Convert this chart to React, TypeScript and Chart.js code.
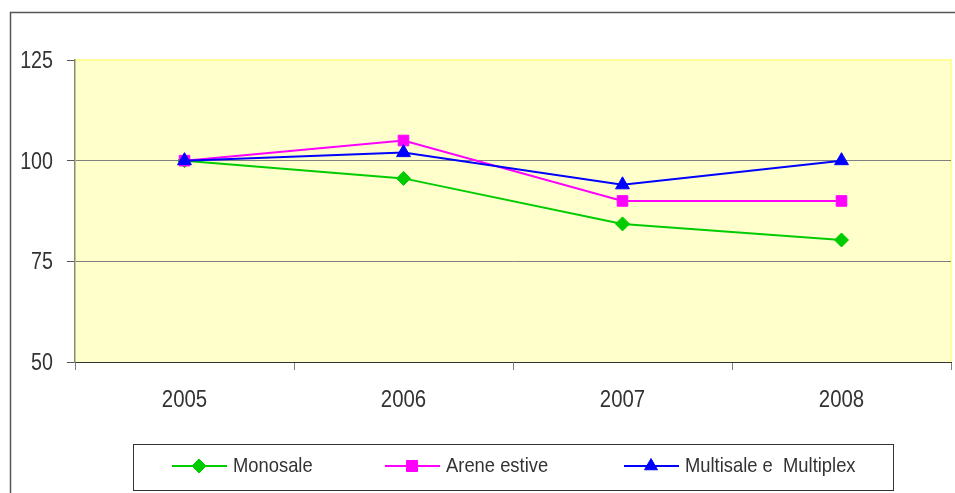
import React, { useEffect, useRef } from 'react';
import { Chart, registerables } from 'chart.js';

Chart.register(...registerables);

const categories = ['2005', '2006', '2007', '2008'];
const monosale = [100, 95.6, 84.3, 80.3];
const areneEstive = [100, 105, 90, 90];
const multisale = [100, 102, 94, 100];
const seriesNames = ['Monosale', 'Arene estive', 'Multisale e  Multiplex'];
const seriesColors = ['#00CC00', '#FF00FF', '#0000FF'];
const seriesStyles = ['rectRot', 'rect', 'triangle'];

const FONT = '"Liberation Sans", Arial, sans-serif';
const TEXT = '#333333';

function drawMarker(ctx: CanvasRenderingContext2D, style: string, x: number, y: number, color: string) {
  ctx.save();
  ctx.fillStyle = color;
  ctx.strokeStyle = color;
  ctx.lineWidth = 1;
  ctx.beginPath();
  if (style === 'rectRot') {
    const r = 7;
    ctx.moveTo(x, y - r);
    ctx.lineTo(x + r, y);
    ctx.lineTo(x, y + r);
    ctx.lineTo(x - r, y);
    ctx.closePath();
  } else if (style === 'rect') {
    const s = 5.5;
    ctx.rect(x - s, y - s, 2 * s, 2 * s);
  } else {
    const r = 7.5;
    ctx.moveTo(x, y - r);
    ctx.lineTo(x + r * 0.866, y + r * 0.5);
    ctx.lineTo(x - r * 0.866, y + r * 0.5);
    ctx.closePath();
  }
  ctx.fill();
  ctx.stroke();
  ctx.restore();
}

function condensedText(ctx: CanvasRenderingContext2D, text: string, x: number, y: number, size: number, sx: number, align: CanvasTextAlign) {
  ctx.save();
  ctx.translate(x, y);
  ctx.scale(sx, 1);
  ctx.font = `${size}px ${FONT}`;
  ctx.fillStyle = TEXT;
  ctx.textAlign = align;
  ctx.textBaseline = 'middle';
  ctx.fillText(text, 0, 0);
  ctx.restore();
}

const decorPlugin = {
  id: 'decor',
  beforeDraw(chart: any) {
    const { ctx, chartArea } = chart;
    const { left, top, right, bottom } = chartArea;
    ctx.save();
    ctx.strokeStyle = '#555555';
    ctx.lineWidth = 1.5;
    ctx.strokeRect(10.5, 12.5, 1100, 1100);
    ctx.fillStyle = '#FFFFCC';
    ctx.fillRect(left, top, right - left, bottom - top);
    ctx.strokeStyle = '#FFFF99';
    ctx.lineWidth = 2;
    ctx.beginPath();
    ctx.moveTo(left, top);
    ctx.lineTo(right, top);
    ctx.lineTo(right, bottom);
    ctx.stroke();
    ctx.restore();
  },
  afterDraw(chart: any) {
    const { ctx } = chart;
    const xs = chart.scales.x;
    const ys = chart.scales.y;
    ys.ticks.forEach((t: any) => {
      const py = ys.getPixelForValue(t.value);
      condensedText(ctx, String(t.label), xs.left - 22, py + 1.5, 24, 0.82, 'right');
    });
    xs.ticks.forEach((t: any, i: number) => {
      const px = xs.getPixelForTick(i);
      condensedText(ctx, String(t.label), px, ys.bottom + 38, 24, 0.85, 'center');
    });
    ctx.save();
    ctx.strokeStyle = '#333333';
    ctx.lineWidth = 1;
    ctx.strokeRect(133.5, 444.5, 760, 46);
    ctx.restore();
    const cy = 466;
    const starts = [172, 385, 624];
    seriesNames.forEach((name, i) => {
      const x0 = starts[i];
      ctx.save();
      ctx.strokeStyle = seriesColors[i];
      ctx.lineWidth = 2;
      ctx.beginPath();
      ctx.moveTo(x0, cy);
      ctx.lineTo(x0 + 55, cy);
      ctx.stroke();
      ctx.restore();
      drawMarker(ctx, seriesStyles[i], x0 + 27, cy, seriesColors[i]);
      condensedText(ctx, name, x0 + 61, cy, 21, 0.875, 'left');
    });
  },
};

export default function App() {
  const ref = useRef<HTMLCanvasElement>(null);
  useEffect(() => {
    if (!ref.current) return;
    const values = [monosale, areneEstive, multisale];
    const chart = new Chart(ref.current, {
      type: 'line',
      data: {
        labels: categories,
        datasets: values.map((v, i) => ({
          label: seriesNames[i],
          data: v,
          borderColor: seriesColors[i],
          backgroundColor: seriesColors[i],
          borderWidth: 2,
          pointStyle: seriesStyles[i] as any,
          pointRadius: i === 0 ? 7 : i === 1 ? 7.5 : 8,
          pointBorderWidth: 1,
          tension: 0,
          fill: false,
          order: 3 - i,
        })),
      },
      options: {
        responsive: false,
        animation: false,
        layout: { padding: { top: 60, right: 4, left: 0, bottom: 0 }, autoPadding: false },
        plugins: { legend: { display: false }, tooltip: { enabled: false } },
        scales: {
          x: {
            offset: true,
            afterFit: (s: any) => { s.height = 131; s.paddingLeft = 0; s.paddingRight = 0; },
            grid: {
              offset: true,
              drawOnChartArea: false,
              drawTicks: true,
              tickLength: 8,
              tickColor: '#808080',
            },
            border: { color: '#333333', width: 1 },
            ticks: { display: false },
          },
          y: {
            min: 50,
            max: 125,
            afterFit: (s: any) => { s.width = 75; s.paddingTop = 0; s.paddingBottom = 0; },
            grid: {
              color: (c: any) => (c.tick && c.tick.value === 125 ? '#FFFF99' : c.tick && c.tick.value === 50 ? 'rgba(0,0,0,0)' : '#808080'),
              tickColor: '#555555',
              tickLength: 8,
            },
            border: { color: '#8a8a6a', width: 1.5 },
            ticks: { stepSize: 25, display: false },
          },
        },
      },
      plugins: [decorPlugin],
    });
    return () => chart.destroy();
  }, []);
  return (
    <div style={{ position: 'absolute', left: 0, top: 0, width: 955, height: 493, background: '#fff' }}>
      <canvas ref={ref} width={955} height={493} />
    </div>
  );
}
